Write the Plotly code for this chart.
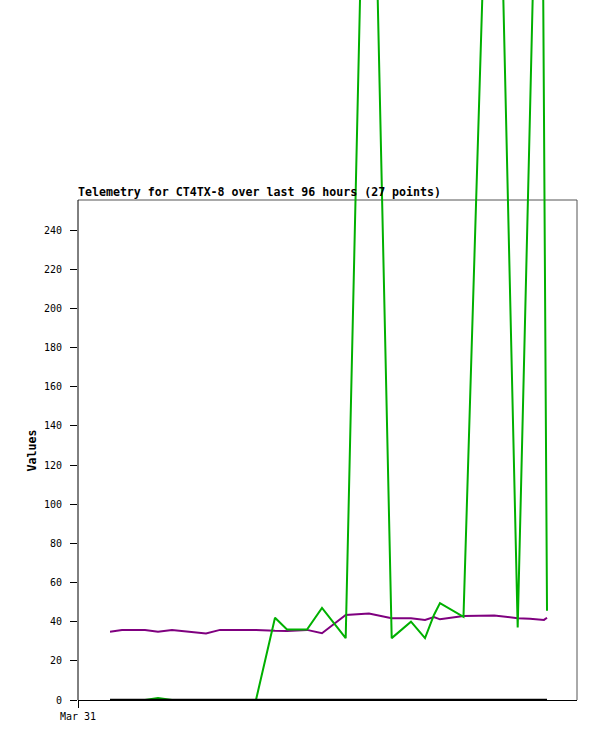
import plotly.graph_objects as go

# ---- data (hours since Mar 31 00:00) ----
hours = [6.16, 8.46, 12.89, 15.39, 18.08, 22.12, 24.63, 27.32, 34.24, 37.90,
         40.21, 44.06, 46.94, 51.50, 55.98, 60.35, 64.06, 66.76, 68.48, 69.64,
         74.16, 80.09, 84.59, 86.96, 89.07, 89.65, 90.23]
green_vals = [0, 0, 0, 1.0, 0, 0, 0, 0, 0, 42,
              36, 36, 47, 31.6, 562, 31.6, 40, 31.6, 43.4, 49.5,
              42.5, 560, 37, 300, 539, 298, 45.6]
purple_vals = [34.9, 35.8, 35.8, 34.9, 35.8, 34.6, 34.0, 35.8, 35.8, 35.3,
               35.2, 35.8, 34.1, 43.4, 44.2, 41.7, 41.7, 40.9, 42.4, 41.2,
               42.9, 43.2, 41.8, 41.5, 41.0, 40.9, 42.0]
black_vals = [0] * 27

y_ticks = list(range(0, 241, 20))
x_tick_vals = [0]
x_tick_text = ["Mar 31"]
title_text = "Telemetry for CT4TX-8 over last 96 hours (27 points)"
y_title = "Values"

W, H = 597, 741
x0_px, x1_px = 78, 577
y_bottom_px = 700
px_per_unit = 470 / 240.0
y_top_val = y_bottom_px / px_per_unit          # value at top of image
frame_top_val = (y_bottom_px - 200) / px_per_unit

fig = go.Figure()
fig.add_trace(go.Scatter(x=hours, y=purple_vals, mode="lines",
                         line=dict(color="#7f007f", width=2), hoverinfo="skip"))
fig.add_trace(go.Scatter(x=hours, y=green_vals, mode="lines",
                         line=dict(color="#00b000", width=2), hoverinfo="skip"))
fig.add_trace(go.Scatter(x=hours, y=black_vals, mode="lines",
                         line=dict(color="#000000", width=2.5), hoverinfo="skip"))

mono = "DejaVu Sans Mono"

fig.update_layout(
    template="none",
    width=W, height=H,
    margin=dict(l=0, r=0, t=0, b=0),
    paper_bgcolor="white", plot_bgcolor="white",
    showlegend=False,
    xaxis=dict(domain=[x0_px / W, x1_px / W], range=[0, 96],
               showgrid=False, zeroline=False, showline=True,
               linecolor="black", linewidth=1,
               ticks="outside", ticklen=7, tickcolor="black", tickwidth=1,
               tickvals=x_tick_vals, ticktext=x_tick_text,
               tickfont=dict(family=mono, size=10, color="black"),
               automargin=False),
    yaxis=dict(domain=[(H - y_bottom_px) / H, 1], range=[0, y_top_val],
               showgrid=False, zeroline=False, showline=False,
               ticks="outside", ticklen=7, tickcolor="black", tickwidth=1,
               tickvals=y_ticks,
               tickfont=dict(family=mono, size=10, color="black"),
               ticklabelstandoff=6,
               automargin=False),
)

# frame: left axis (black), top & right (gray)
fig.add_shape(type="line", xref="paper", yref="y",
              x0=x0_px / W, x1=x0_px / W, y0=0, y1=frame_top_val,
              line=dict(color="black", width=1))
fig.add_shape(type="line", xref="paper", yref="y",
              x0=x0_px / W, x1=x1_px / W, y0=frame_top_val, y1=frame_top_val,
              line=dict(color="#555555", width=1), layer="below")
fig.add_shape(type="line", xref="paper", yref="y",
              x0=x1_px / W, x1=x1_px / W, y0=0, y1=frame_top_val,
              line=dict(color="#555555", width=1), layer="below")

fig.add_annotation(text="<b>" + title_text + "</b>", xref="paper", yref="paper",
                   x=(x0_px - 2) / W, y=1 - 192 / H, xanchor="left", yanchor="middle",
                   showarrow=False, font=dict(family=mono, size=11.6, color="black"))
fig.add_annotation(text="<b>" + y_title + "</b>", xref="paper", yref="paper",
                   x=31.5 / W, y=1 - 451 / H, xanchor="center", yanchor="middle",
                   textangle=-90, showarrow=False,
                   font=dict(family=mono, size=11.6, color="black"))

fig.write_html("out.html",
               config={"displayModeBar": False, "staticPlot": True},
               post_script="document.body.style.margin='0';document.body.style.overflow='hidden';")
